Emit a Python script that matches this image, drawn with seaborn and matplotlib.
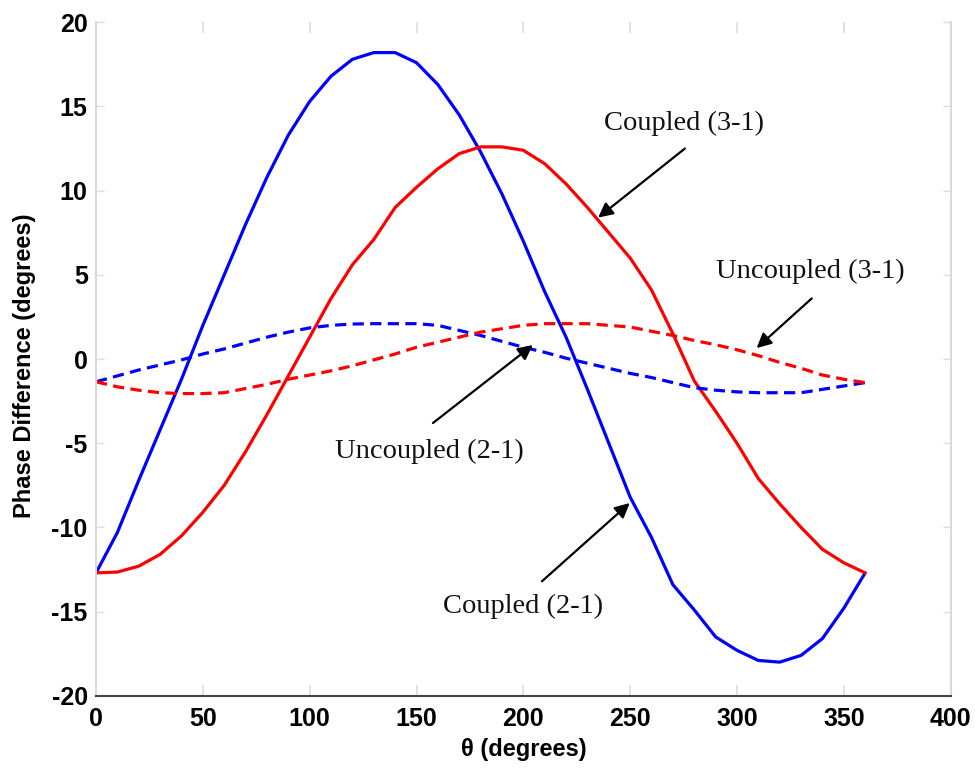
import numpy as np
import pandas as pd
import matplotlib
matplotlib.use("Agg")
import matplotlib.pyplot as plt
import seaborn as sns

theta = list(range(0, 361, 10))

coupled_21 = [-12.7, -10.3, -7.2, -4.2, -1.2, 2.0, 5.0, 8.0, 10.8, 13.3,
              15.3, 16.8, 17.8, 18.2, 18.2, 17.6, 16.3, 14.5, 12.3, 9.8,
              7.0, 4.0, 1.3, -1.8, -5.0, -8.2, -10.6, -13.4, -14.9, -16.5,
              -17.3, -17.9, -18.0, -17.6, -16.6, -14.8, -12.7]

coupled_31 = [-12.7, -12.65, -12.3, -11.6, -10.5, -9.1, -7.5, -5.5, -3.3, -1.0,
              1.3, 3.6, 5.6, 7.1, 9.0, 10.2, 11.3, 12.2, 12.6, 12.6,
              12.4, 11.6, 10.4, 9.0, 7.5, 6.0, 4.1, 1.5, -1.3, -3.1,
              -5.0, -7.1, -8.6, -10.0, -11.3, -12.1, -12.7]

uncoupled_21 = [-1.35, -1.0, -0.65, -0.35, -0.05, 0.3, 0.6, 0.95, 1.3, 1.6,
                1.85, 2.0, 2.08, 2.1, 2.1, 2.1, 2.0, 1.7, 1.4, 1.05,
                0.7, 0.4, 0.05, -0.25, -0.55, -0.85, -1.1, -1.4, -1.7, -1.85,
                -1.95, -2.0, -2.0, -2.0, -1.8, -1.6, -1.4]

uncoupled_31 = [-1.35, -1.65, -1.85, -2.0, -2.05, -2.05, -2.0, -1.75, -1.5, -1.2,
                -0.95, -0.7, -0.4, -0.05, 0.3, 0.7, 1.0, 1.3, 1.6, 1.8,
                2.0, 2.1, 2.1, 2.1, 2.0, 1.9, 1.65, 1.4, 1.1, 0.85,
                0.55, 0.2, -0.2, -0.55, -0.95, -1.2, -1.4]

x_ticks = [0, 50, 100, 150, 200, 250, 300, 350, 400]
y_ticks = [-20, -15, -10, -5, 0, 5, 10, 15, 20]

sns.set_theme(style="white")
plt.rcParams['font.family'] = ['Liberation Sans', 'DejaVu Sans']

fig = plt.figure(figsize=(9.75, 7.68), dpi=100)
ax = fig.add_axes([0.0985, 0.094, 0.8765, 0.877])

df = pd.DataFrame({"theta": theta, "c21": coupled_21, "c31": coupled_31,
                   "u21": uncoupled_21, "u31": uncoupled_31})

lw = 2.3
sns.lineplot(data=df, x="theta", y="c21", color="#0000ff", lw=lw, ax=ax)
sns.lineplot(data=df, x="theta", y="c31", color="#ff0000", lw=lw, ax=ax)
sns.lineplot(data=df, x="theta", y="u21", color="#0000ff", lw=lw, ax=ax,
             linestyle=(0, (3.5, 2)))
sns.lineplot(data=df, x="theta", y="u31", color="#ff0000", lw=lw, ax=ax,
             linestyle=(0, (3.5, 2)))

ax.set_xlim(0, 400)
ax.set_ylim(-20, 20)
ax.set_xticks(x_ticks)
ax.set_yticks(y_ticks)
ax.set_xticklabels([str(v) for v in x_ticks], fontsize=18, fontweight='bold', color='black')
ax.set_yticklabels([str(v) for v in y_ticks], fontsize=18, fontweight='bold', color='black')

ax.set_xlabel("θ (degrees)", fontsize=17, fontweight='bold', color='black')
ax.set_ylabel("Phase Difference (degrees)", fontsize=17, fontweight='bold', color='black')
ax.xaxis.set_label_coords(0.5, -0.062)
ax.yaxis.set_label_coords(-0.07, 0.49)

for side in ['left', 'right']:
    ax.spines[side].set_color('#d9d9d9')
    ax.spines[side].set_linewidth(1.5)
ax.spines['top'].set_visible(False)
ax.spines['bottom'].set_color('#444444')
ax.spines['bottom'].set_linewidth(1.5)

ax.tick_params(axis='x', direction='in', top=True, bottom=True, length=8,
               width=1.2, color='#dddddd', pad=8)
ax.tick_params(axis='y', direction='in', left=True, right=True, length=6,
               width=1.0, color='#dddddd', pad=6)

serif = ['Liberation Serif', 'DejaVu Serif']
tfs = 20.5
ax.text(275, 14.0, "Coupled (3-1)", family=serif, fontsize=tfs, ha='center', va='center', color='#111111')
ax.text(334.5, 5.2, "Uncoupled (3-1)", family=serif, fontsize=tfs, ha='center', va='center', color='#111111')
ax.text(156, -5.5, "Uncoupled (2-1)", family=serif, fontsize=tfs, ha='center', va='center', color='#111111')
ax.text(200, -14.7, "Coupled (2-1)", family=serif, fontsize=tfs, ha='center', va='center', color='#111111')

ap = dict(arrowstyle='-|>', color='black', lw=1.6, mutation_scale=22, shrinkA=0, shrinkB=0)
ax.annotate('', xy=(235, 8.4), xytext=(275.6, 12.5), arrowprops=ap)
ax.annotate('', xy=(309.2, 0.65), xytext=(335, 3.6), arrowprops=ap)
ax.annotate('', xy=(204.4, 0.83), xytext=(157.7, -3.8), arrowprops=ap)
ax.annotate('', xy=(249.8, -8.55), xytext=(208.7, -13.2), arrowprops=ap)

fig.savefig("out.png", dpi=100)
